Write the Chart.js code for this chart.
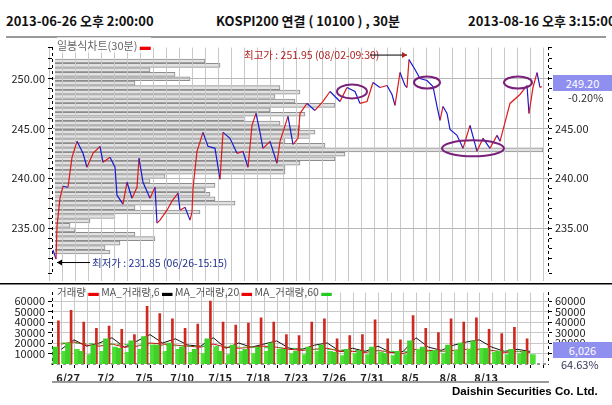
<!DOCTYPE html>
<html>
<head>
<meta charset="utf-8">
<script src="https://cdn.jsdelivr.net/npm/chart.js@4"></script>
<style>
  body { margin: 0; background: #fff; width: 612px; height: 405px; position: relative; overflow: hidden;
         font-family: "Noto Sans CJK KR", sans-serif; }
  canvas { position: absolute; left: 0; }
  .t { position: absolute; white-space: nowrap; }
  .hdr { top: 11px; font: bold 13px "Noto Sans CJK KR", sans-serif; color: #111; }
  .box { position: absolute; left: 553px; width: 59px; background: #8f8ff0; color: #fff; font-size: 11px; text-align: center; }
  .sm { font-size: 11px; color: #333; }
</style>
</head>
<body>
<div class="t hdr" style="left:6px">2013-06-26 오후 2:00:00</div>
<div class="t hdr" style="left:216px">KOSPI200 연결 ( 10100 ) , 30분</div>
<div class="t hdr" style="left:468px">2013-08-16 오후 3:15:00</div>
<div style="position:absolute;left:6px;top:36px;width:600px;height:2px;background:#999"></div>

<canvas id="profile" width="612" height="245" style="top:38px"></canvas>
<canvas id="price" width="612" height="245" style="top:38px"></canvas>
<canvas id="volume" width="612" height="104" style="top:283px"></canvas>

<div class="t sm" style="left:57px;top:37px;color:#666;background:rgba(255,255,255,0.6)">일봉식차트(30분) <span style="color:#e00">▬</span></div>
<div class="t sm" style="left:57px;top:284px;color:#555;font-size:10.5px">거래량 <span style="color:#e00">▬</span> MA_거래량,6 <span style="color:#000">▬</span> MA_거래량,20 <span style="color:#e00">▬</span> MA_거래량,60 <span style="color:#2c2">▬</span></div>
<div class="box" style="top:75px">249.20</div>
<div class="t sm" style="left:568px;top:89px">-0.20%</div>
<div class="box" style="top:342px">6,026</div>
<div class="t sm" style="left:561px;top:356px;color:#335">64.63%</div>
<div style="position:absolute;left:52px;top:381px;width:497px;height:2px;background:#999"></div>
<div class="t" style="left:452px;top:385px;font:bold 11.5px 'Liberation Sans', sans-serif">Daishin Securities Co. Ltd.</div>

<script>
// 30-minute bar number (about 13 bars per trading day) and price
const priceBar = [4,7,8,11,14,19,23,28,34,38,44,51,54,61,66,68,74,78,83,88,90,94,101,106,108,111,118,123,129,131,136,141,143,
  144,148,154,159,166,171,174,181,188,194,199,203,207,211,214,221,228,231,239,244,249,251,258,266,274,281,291,298,306,311,318,
  324,331,338,343,346,351,356,358,360,366,371,378,384,388,391,394,398,401,408,414,421,428,434,441,448,451,456,461,471,478,480,
  484,488,491,493];
const priceValue = [232.8,231.9,235.2,238.0,239.2,239.1,242.1,243.7,242.5,241.1,242.5,243.2,241.6,242.1,241.1,238.3,237.4,239.6,
  238.0,239.1,242.0,239.6,238.0,239.1,235.5,235.8,236.8,237.7,238.5,236.8,237.1,235.8,236.6,
  239.0,242.7,244.6,243.2,243.0,239.9,244.6,244.0,242.5,242.7,241.1,245.3,246.5,244.6,243.0,243.7,241.5,243.7,246.2,243.4,244.0,
  246.5,247.5,246.8,247.7,248.7,247.7,249.1,248.7,247.5,247.7,249.6,249.1,249.3,248.4,247.3,250.6,249.3,249.1,251.9,250.9,250.0,
  249.8,249.2,247.2,245.8,247.2,246.5,244.9,244.3,243.0,245.3,242.7,244.0,243.0,244.3,243.7,245.6,247.5,248.4,249.3,246.5,
  249.1,250.6,249.1,249.2];

// trading-day labels (day index -> label)
const dayIndex = [1,4,7,10,13,16,19,22,25,28,31,34];
const dayLabels = ['6/27','7/2','7/5','7/10','7/15','7/18','7/23','7/26','7/31','8/5','8/8','8/13'];
const barsPerDay = 13;
const volTicks = [10000,20000,30000,40000,50000,60000];

// volume profile (price level, traded volume in relative units)
const profileLevel = [253,252.5,252,251.5,251,250.5,250,249.5,249,248.5,248,247.5,247,246.5,246,245.5,245,244.5,244,243.5,243,
  242.5,242,241.5,241,240.5,240,239.5,239,238.5,238,237.5,237,236.5,236,235.5,235,234.5,234,233.5,233,232.5,232,231.5];
const profileVolume = [150,165,95,120,135,80,225,245,220,240,280,215,250,190,225,245,260,255,230,270,488,
  290,280,245,230,230,110,95,160,150,155,160,180,80,145,60,35,15,20,80,100,65,50,55];

// daily volume: opening spike, two ordinary bars, moving averages
const volSpike = [41000,51000,40000,34000,36000,33000,28000,55000,48000,43000,34000,38000,60000,40000,37000,39000,44000,40000,
  28000,27000,40000,43000,24000,27000,28000,42000,24000,23000,46000,34000,30000,43000,40000,44000,33000,29000,35000,24000];
const volA = [16000,20000,12000,18000,24000,15000,22000,26000,18000,20000,16000,14000,24000,12000,18000,14000,16000,20000,
  14000,12000,16000,18000,11000,14000,12000,16000,10000,12000,22000,16000,13000,18000,20000,22000,15000,12000,14000,12000];
const volB = [12000,14000,9000,12000,16000,11000,14000,18000,12000,14000,11000,10000,16000,9000,12000,10000,12000,14000,
  10000,9000,12000,12000,8000,10000,9000,11000,8000,9000,14000,12000,10000,13000,14000,15000,11000,9000,10000,9000];
const ma6 = [19000,21000,18000,17000,19000,16000,17000,20000,19000,18000,17000,16000,19000,16000,15000,16000,17000,16000,
  14000,13000,14000,15000,12000,12000,11000,13000,11000,10000,14000,13000,12000,13000,14000,14000,13000,11000,12000,11000];
const ma20 = [14000,23000,17000,20000,25000,16000,22000,28000,20000,24000,18000,17000,25000,15000,20000,16000,19000,22000,
  15000,14000,18000,20000,12000,15000,12000,17000,11000,12000,25000,16000,13000,18000,21000,23000,16000,12000,14000,12000];
const ma60 = [20000,20000,19500,19000,19000,18500,18000,18000,17500,17500,17000,17000,17000,16500,16000,16000,15500,15500,
  15000,14500,14000,14000,13500,13000,12500,12500,12000,12000,12000,12000,12000,12500,13000,13000,12500,12000,12000,11500];

const xMin = 3, xMax = 499;
const fnt = { family: "'Noto Sans CJK KR', sans-serif", size: 11 };
Chart.defaults.color = '#222';
Chart.defaults.animation = false;

const dayTicks = scale => {
  scale.ticks = [];
  for (let d = 0; d <= 38; d++) scale.ticks.push({ value: d * barsPerDay });
};
const dayLabel = v => {
  const i = dayIndex.indexOf(v / barsPerDay);
  return i >= 0 ? dayLabels[i] : '';
};
const dashGrid = {
  id: 'dashgrid',
  beforeDraw(chart) { chart.ctx.setLineDash([3, 3]); },
  beforeDatasetsDraw(chart) { chart.ctx.setLineDash([]); }
};

// volume profile underlay
new Chart(document.getElementById('profile'), {
  type: 'bar',
  data: {
    datasets: [{
      data: profileLevel.map((l, i) => ({ x: profileVolume[i], y: l })),
      backgroundColor: '#e2e2e2', borderColor: '#8c8c8c', borderWidth: 1, barThickness: 4
    }]
  },
  options: {
    indexAxis: 'y', responsive: false,
    layout: { padding: { left: 55, right: 64, top: 2, bottom: 2 } },
    plugins: { legend: { display: false }, tooltip: { enabled: false } },
    scales: {
      x: { type: 'linear', min: 0, max: 493, display: false },
      y: { type: 'linear', min: 230.5, max: 253.1, display: false }
    }
  }
});

const notes = {
  id: 'notes',
  afterDatasetsDraw(chart) {
    const { ctx, scales: { x, y } } = chart;
    ctx.save();
    ctx.strokeStyle = '#7a1f7a';
    ctx.lineWidth = 2;
    [[303, 248.7, 15, 7], [378, 249.6, 13, 6], [424, 243.0, 31, 8], [469, 249.6, 14, 6]].forEach(e => {
      ctx.beginPath();
      ctx.ellipse(x.getPixelForValue(e[0]), y.getPixelForValue(e[1]), e[2], e[3], 0, 0, Math.PI * 2);
      ctx.stroke();
    });
    ctx.font = "10.5px 'Noto Sans CJK KR', sans-serif";
    ctx.lineWidth = 1;
    // high
    const hx = x.getPixelForValue(358), hy = y.getPixelForValue(251.95);
    ctx.fillStyle = '#b02020';
    ctx.textBaseline = 'middle';
    ctx.fillText('최고가 : 251.95 (08/02-09:30)', 244, hy - 4);
    ctx.strokeStyle = '#000';
    ctx.beginPath(); ctx.moveTo(370, hy - 4); ctx.lineTo(hx, hy - 4); ctx.stroke();
    ctx.beginPath(); ctx.moveTo(hx, hy - 4); ctx.lineTo(hx - 5, hy - 7); ctx.lineTo(hx - 5, hy - 1); ctx.fill();
    // low
    const lx = x.getPixelForValue(8), ly = y.getPixelForValue(231.85) + 3;
    ctx.fillStyle = '#203090';
    ctx.fillText('최저가 : 231.85 (06/26-15:15)', 92, ly);
    ctx.beginPath(); ctx.moveTo(90, ly); ctx.lineTo(lx, ly); ctx.stroke();
    ctx.fillStyle = '#000';
    ctx.beginPath(); ctx.moveTo(lx, ly); ctx.lineTo(lx + 5, ly - 3); ctx.lineTo(lx + 5, ly + 3); ctx.fill();
    ctx.restore();
  }
};

const priceTickCfg = {
  min: 230.5, max: 253.1,
  border: { color: '#000' },
  grid: { color: c => c.tick.value % 5 === 0 ? '#b8b8b8' : 'rgba(0,0,0,0)', tickColor: '#000', tickLength: 4,
          drawOnChartArea: true },
  ticks: { stepSize: 1, font: fnt, color: '#222', autoSkip: false,
           callback: v => v % 5 === 0 ? v.toFixed(2) : '' }
};

new Chart(document.getElementById('price'), {
  type: 'line',
  data: {
    datasets: [{
      data: priceBar.map((b, i) => ({ x: b, y: priceValue[i] })),
      borderWidth: 1.2, pointRadius: 0, tension: 0,
      segment: { borderColor: c => c.p1.parsed.y >= c.p0.parsed.y ? '#e01818' : '#1a1ad0' }
    }]
  },
  options: {
    responsive: false,
    layout: { padding: { top: 2, bottom: 2 } },
    plugins: { legend: { display: false }, tooltip: { enabled: false } },
    scales: {
      x: { type: 'linear', min: xMin, max: xMax, afterBuildTicks: dayTicks,
           grid: { color: '#c8c8c8' }, border: { display: false }, ticks: { display: false } },
      y: Object.assign({ position: 'left', afterFit: s => { s.width = 52; } }, priceTickCfg),
      y2: Object.assign({ position: 'right', afterFit: s => { s.width = 64; } }, priceTickCfg,
           { grid: { drawOnChartArea: false, tickColor: '#000', tickLength: 4 } })
    }
  },
  plugins: [notes, dashGrid]
});

const spikeData = volSpike.map((v, d) => ({ x: d * barsPerDay + 1, y: v }));
const aData = volA.map((v, d) => ({ x: d * barsPerDay + 5, y: v }));
const bData = volB.map((v, d) => ({ x: d * barsPerDay + 9, y: v }));
const maX = d => d * barsPerDay + 6;

const volTickCfg = {
  min: 0, max: 68000,
  border: { color: '#000' },
  afterBuildTicks: s => { s.ticks = volTicks.map(v => ({ value: v })); },
  grid: { color: '#c8c8c8', tickColor: '#000', tickLength: 4 },
  ticks: { font: fnt, color: '#222', autoSkip: false, callback: v => v }
};

new Chart(document.getElementById('volume'), {
  data: {
    datasets: [
      { type: 'bar', data: aData, backgroundColor: '#3fd12a', barThickness: 5 },
      { type: 'bar', data: bData, backgroundColor: '#4ee035', barThickness: 5 },
      { type: 'bar', data: spikeData, backgroundColor: '#cf2a20', barThickness: 2 },
      { type: 'line', data: ma60.map((v, d) => ({ x: maX(d), y: v })), borderColor: '#3ac83a', borderWidth: 1,
        borderDash: [4, 3], pointRadius: 0 },
      { type: 'line', data: ma6.map((v, d) => ({ x: maX(d), y: v })), borderColor: '#c01010', borderWidth: 1, pointRadius: 0 },
      { type: 'line', data: ma20.map((v, d) => ({ x: maX(d), y: v })), borderColor: '#111', borderWidth: 1, pointRadius: 0 }
    ]
  },
  options: {
    responsive: false,
    layout: { padding: { top: 0, bottom: 4 } },
    plugins: { legend: { display: false }, tooltip: { enabled: false } },
    scales: {
      x: { type: 'linear', min: xMin, max: xMax, afterBuildTicks: dayTicks,
           afterFit: s => { s.height = 19; },
           grid: { color: '#c8c8c8', tickColor: '#000', tickLength: 4 }, border: { color: '#999', width: 2 },
           ticks: { font: { family: fnt.family, size: 11, weight: 'bold' }, color: '#222', maxRotation: 0,
                    autoSkip: false, callback: dayLabel } },
      y: Object.assign({ position: 'left', afterFit: s => { s.width = 52; } }, volTickCfg),
      y2: Object.assign({ position: 'right', afterFit: s => { s.width = 64; } }, volTickCfg,
           { grid: { drawOnChartArea: false, tickColor: '#000', tickLength: 4 } })
    }
  },
  plugins: [dashGrid, {
    id: 'topline',
    afterDraw(chart) {
      const { ctx } = chart;
      ctx.save();
      ctx.fillStyle = '#000';
      ctx.fillRect(0, 0, 612, 1.5);
      ctx.restore();
    }
  }]
});
</script>
</body>
</html>
